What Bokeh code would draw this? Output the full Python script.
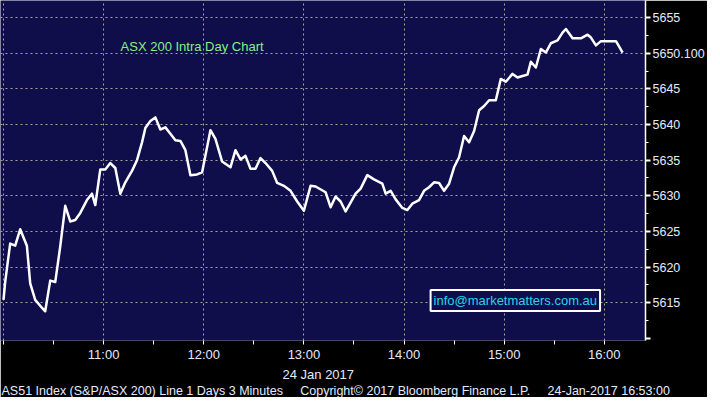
from bokeh.plotting import figure
from bokeh.models import Range1d, FixedTicker, LinearAxis, Label, Title
from bokeh.embed import file_html
from bokeh.resources import INLINE

# minutes after 10:00 (3-minute bars), ASX 200 index level
minutes = [0, 1, 4, 7, 10, 14, 16, 19, 23, 25, 28, 31, 34, 37, 40, 43, 46, 50, 53, 55,
           58, 61, 64, 67, 70, 73, 77, 80, 83, 85, 88, 91, 94, 97, 100, 103, 106, 109, 112, 116,
           119, 124, 127, 131, 136, 139, 142, 145, 148, 151, 154, 157, 161, 164, 168, 172, 176, 180, 184, 187,
           193, 196, 199, 202, 205, 211, 214, 218, 222, 227, 229, 232, 235, 239, 242, 245, 249, 252, 255, 258,
           261, 264, 267, 270, 273, 276, 279, 282, 285, 288, 291, 295, 298, 301, 305, 308, 311, 314, 316, 319,
           322, 325, 328, 332, 335, 337, 341, 346, 350, 352, 355, 358, 367, 371]
values = [5615.4, 5617.9, 5623.3, 5623.0, 5625.3, 5623.0, 5617.7, 5615.4, 5614.3, 5613.8,
          5618.1, 5617.9, 5622.9, 5628.6, 5626.4, 5626.6, 5627.6, 5629.4, 5630.3, 5628.7,
          5633.7, 5633.7, 5634.6, 5633.9, 5630.3, 5631.9, 5633.5, 5635.0, 5637.5, 5639.5,
          5640.5, 5641.0, 5639.3, 5639.6, 5638.7, 5637.8, 5637.7, 5636.4, 5632.9, 5633.0,
          5633.3, 5639.2, 5638.0, 5634.8, 5634.0, 5636.4, 5635.1, 5635.6, 5633.8, 5633.8,
          5635.3, 5634.6, 5633.5, 5631.8, 5631.4, 5630.7, 5629.2, 5627.9, 5631.4, 5631.3,
          5630.5, 5628.4, 5629.9, 5629.2, 5627.8, 5630.3, 5631.0, 5632.9, 5632.3, 5631.7,
          5630.3, 5630.7, 5629.5, 5628.3, 5628.0, 5628.9, 5629.4, 5630.7, 5631.2, 5631.9,
          5631.8, 5630.7, 5631.7, 5634.0, 5635.4, 5638.4, 5637.5, 5639.1, 5642.0, 5642.6,
          5643.4, 5643.4, 5646.4, 5646.0, 5647.1, 5646.6, 5646.8, 5647.0, 5648.8, 5648.0,
          5650.6, 5650.1, 5651.4, 5651.8, 5652.9, 5653.4, 5652.1, 5652.1, 5652.6, 5652.2,
          5651.1, 5651.7, 5651.7, 5650.1]

hour_ticks = [0, 60, 120, 180, 240, 300, 360]
hour_labels = ["", "11:00", "12:00", "13:00", "14:00", "15:00", "16:00"]
half_hour_ticks = [30, 90, 150, 210, 270, 330]
y_ticks = [5610, 5615, 5620, 5625, 5630, 5635, 5640, 5645, 5650, 5655]
last_value_text = "5650.100"
title_text = "ASX 200 Intra Day Chart"
email_text = "info@marketmatters.com.au"
date_text = "24 Jan 2017"
footer_parts = ["AS51 Index (S&P/ASX 200) Line 1 Days 3 Minutes",
                "Copyright\u00a9 2017 Bloomberg Finance L.P.",
                "24-Jan-2017 16:53:00"]

FONT = "Liberation Sans"
BG = "#100d4b"
TXT = "#e4eaff"
Y0, Y1 = 5609.7, 5657.4
FH = 340
FW = 645

p = figure(width=704, frame_width=FW, frame_height=FH,
           output_backend="svg", toolbar_location=None,
           x_range=Range1d(-1.8, 384.7), y_range=Range1d(Y0, Y1),
           y_axis_location=None, x_axis_location=None,
           min_border_left=0, min_border_top=0, min_border_right=704 - FW, min_border_bottom=0)
p.background_fill_color = BG
p.border_fill_color = "#000000"
p.outline_line_color = None

# time axis
xa = LinearAxis(ticker=FixedTicker(ticks=hour_ticks, minor_ticks=half_hour_ticks))
xa.major_label_overrides = {t: l for t, l in zip(hour_ticks, hour_labels)}
xa.axis_line_color = None
xa.major_tick_line_color = "white"
xa.minor_tick_line_color = "white"
xa.major_tick_in = 0
xa.major_tick_out = 4
xa.minor_tick_in = 0
xa.minor_tick_out = 4
xa.major_label_text_color = TXT
xa.major_label_text_font = FONT
xa.major_label_text_font_size = "13px"
xa.major_label_standoff = 2
p.add_layout(xa, "below")

# price axis; the last traded value sits at the 5650 tick
ya = LinearAxis(ticker=FixedTicker(ticks=y_ticks, minor_ticks=[t + 2.5 for t in y_ticks]))
ya.major_label_overrides = {5610: "", 5650: last_value_text}
ya.axis_line_color = "white"
ya.axis_line_width = 1.5
ya.major_tick_line_color = "white"
ya.major_tick_line_width = 2
ya.major_tick_in = 0
ya.major_tick_out = 5
ya.minor_tick_line_color = "white"
ya.minor_tick_in = 0
ya.minor_tick_out = 3
ya.major_label_text_color = TXT
ya.major_label_text_font = FONT
ya.major_label_text_font_size = "12.5px"
ya.major_label_standoff = 2
p.add_layout(ya, "right")

# date and footer lines below the time axis
date_title = Title(text=date_text, align="left", offset=282, text_color=TXT,
                   text_font=FONT, text_font_size="13px", text_font_style="normal",
                   standoff=0)
p.add_layout(date_title, "below")
gap = "\u00a0" * 5
footer_title = Title(text=gap.join(footer_parts), align="left", offset=1, text_color=TXT,
                     text_font=FONT, text_font_size="12.5px", text_font_style="normal",
                     standoff=0)
p.add_layout(footer_title, "below")

# grid
p.xgrid.ticker = FixedTicker(ticks=hour_ticks)
p.ygrid.ticker = FixedTicker(ticks=y_ticks[1:])
for g in (p.xgrid, p.ygrid):
    g.grid_line_color = "#a8a496"
    g.grid_line_dash = "2 3"
    g.grid_line_width = 1

p.line(minutes, values, line_color="white", line_width=2.5, line_join="round")

# annotations inside the chart
p.add_layout(Label(x=113, y=5650.9, text=title_text, text_color="#86f086",
                   text_font=FONT, text_font_size="13px", text_align="center",
                   text_baseline="middle"))
p.add_layout(Label(x=306.7, y=5615.3, text=email_text, text_color="#22d6e6",
                   text_font=FONT, text_font_size="13px", text_align="center",
                   text_baseline="middle", border_line_color="white", border_line_width=2,
                   background_fill_color=BG, padding=3))

open("out.html", "w").write(file_html(p, INLINE))
